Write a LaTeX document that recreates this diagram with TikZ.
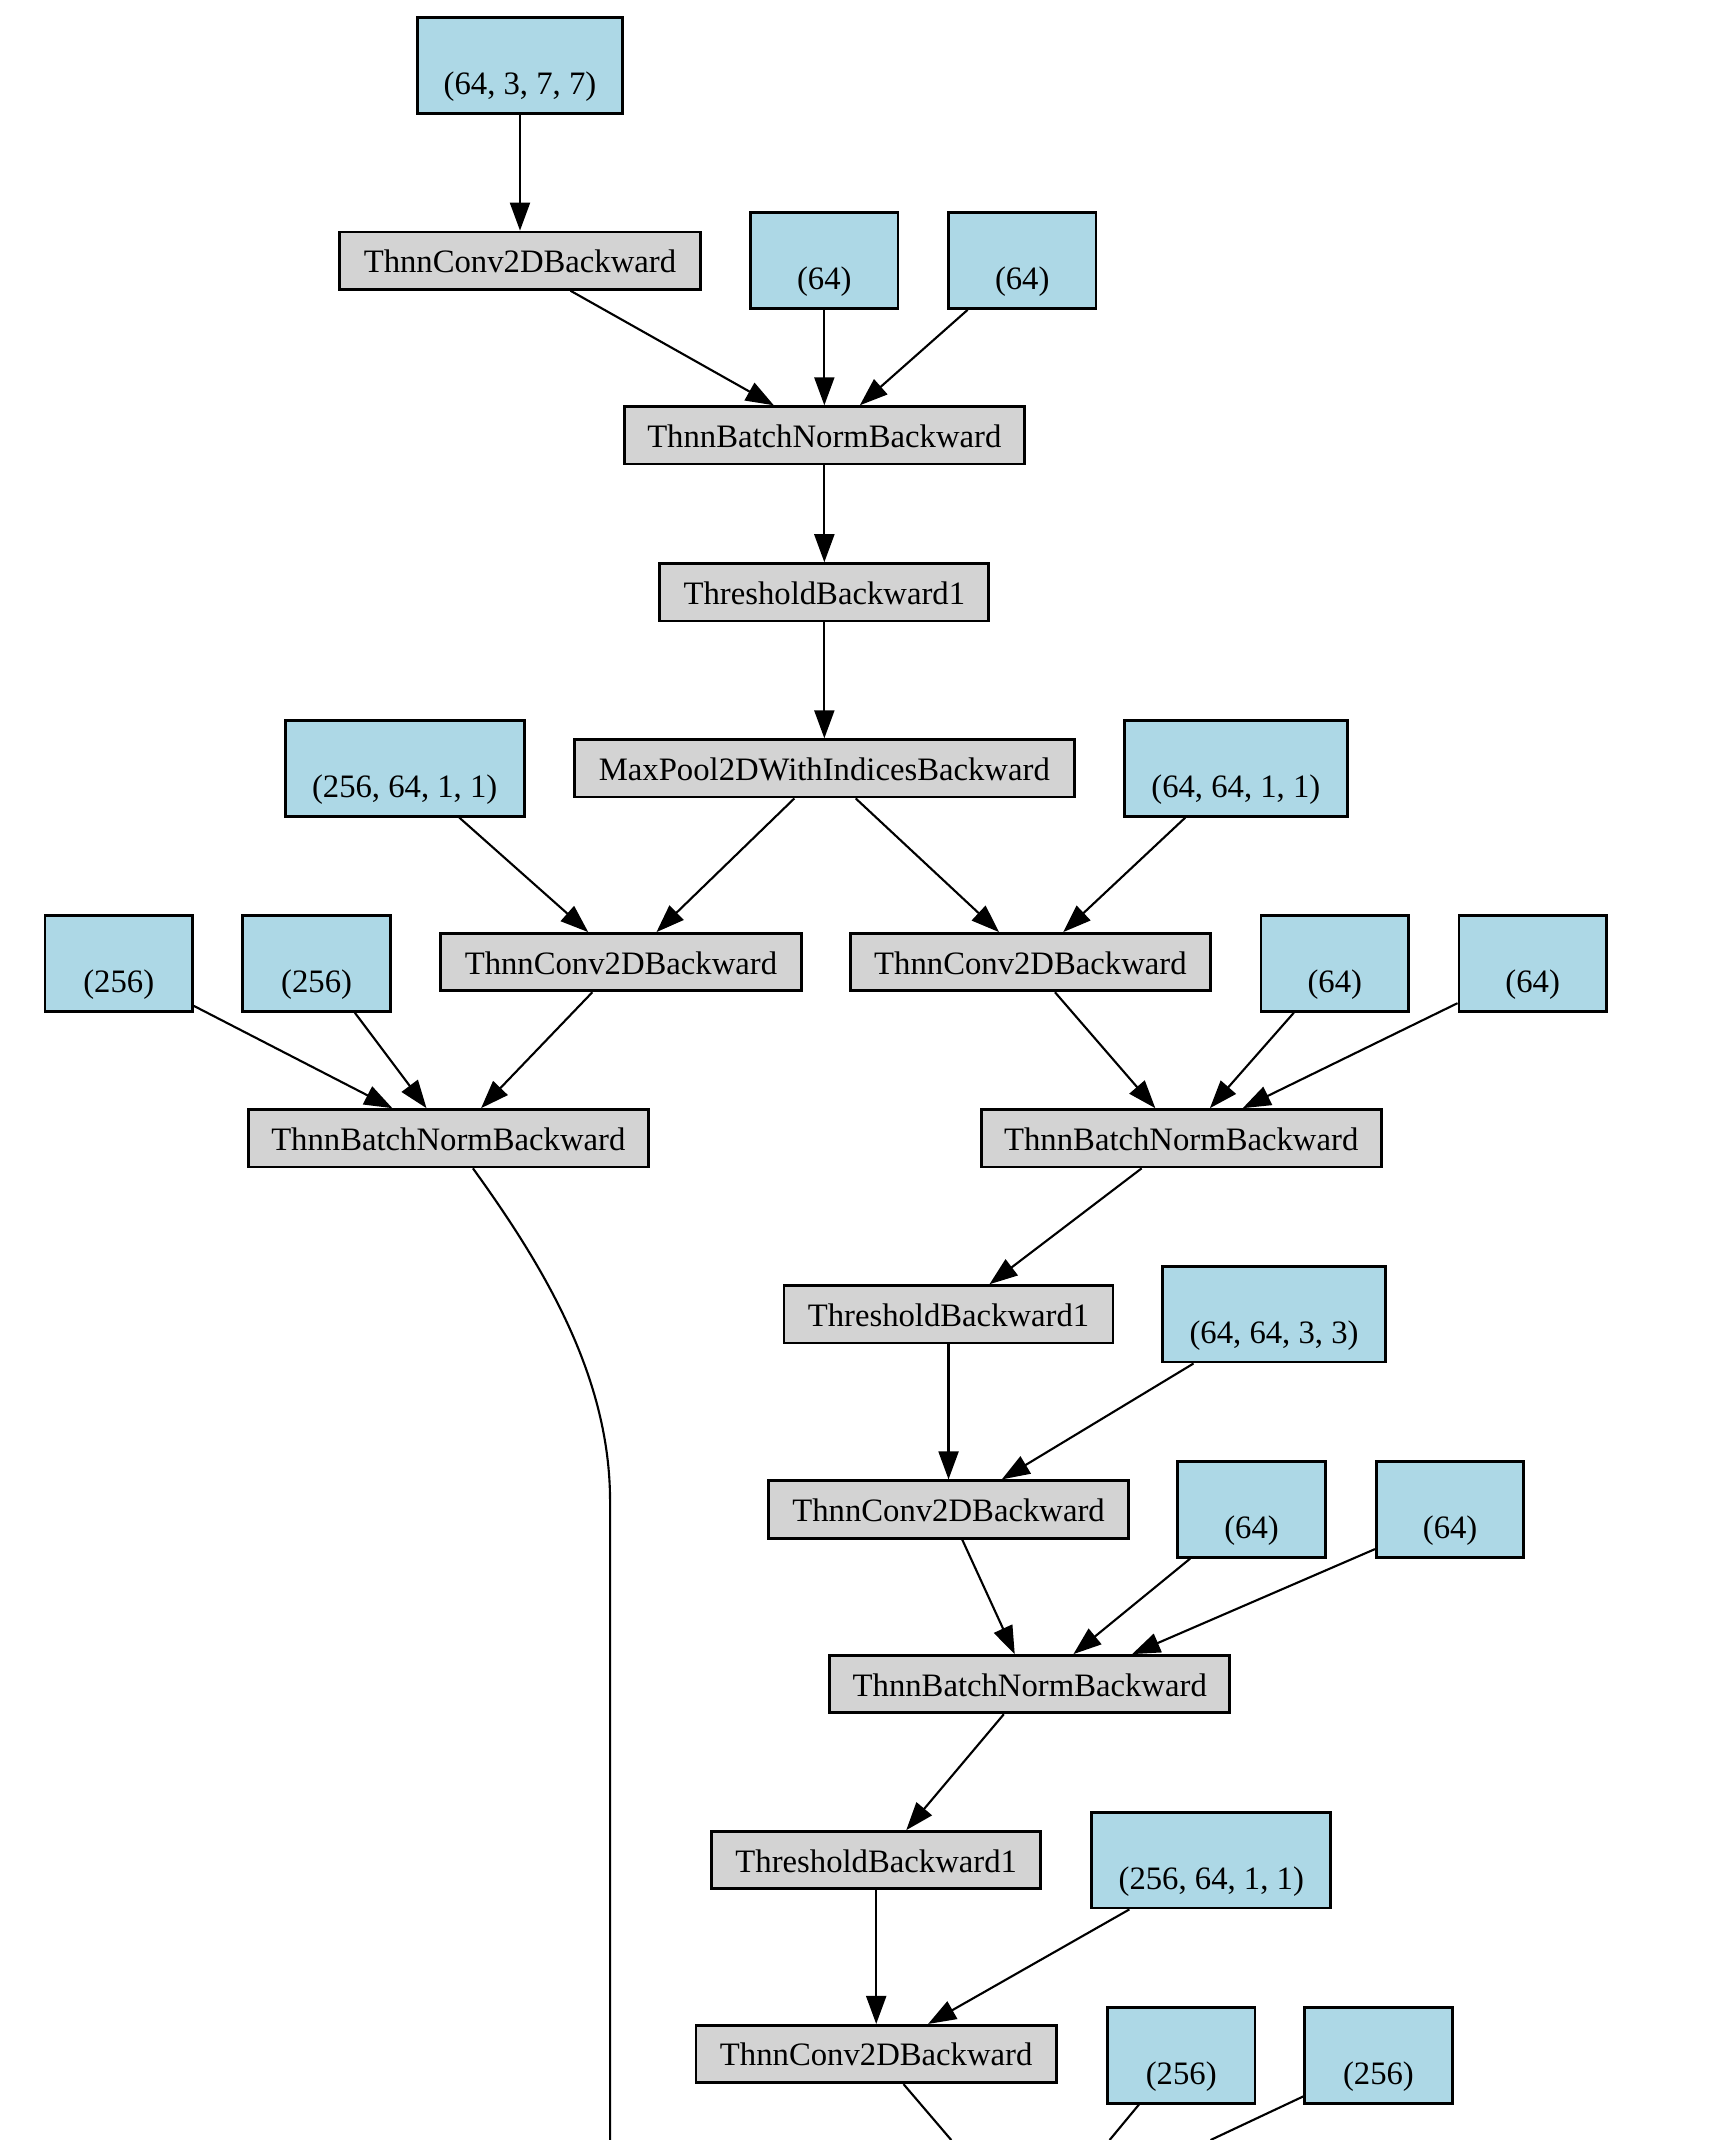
\documentclass[tikz,border=0pt]{standalone}
\usepackage{fontspec}
\setmainfont{Liberation Serif}
\usetikzlibrary{arrows.meta,calc}
\definecolor{lightbluec}{HTML}{ADD8E6}
\definecolor{lightgrayc}{HTML}{D3D3D3}
\begin{document}
\begin{tikzpicture}[x=0.013644cm,y=-0.013644cm,
  font=\fontsize{9.3}{11}\selectfont,
  opbox/.style={draw=black,fill=lightgrayc,line width=0.8pt,inner sep=0pt,minimum height=0.573cm,text height=0.68em,text depth=0pt},
  param/.style={draw=black,fill=lightbluec,line width=0.8pt,inner sep=0pt,minimum height=0.955cm,text height=0.66cm,text depth=0.074cm},
  conn/.style={line width=0.6pt,-{Triangle[length=0.28cm,width=0.2cm]}},
  cut/.style={line width=0.6pt}]
\fill[white] (0,0) rectangle (1265,1568);
\useasboundingbox (0,0) rectangle (1265,1568);

\node[param,minimum width=2.047cm] (A) at (381,48) {(64, 3, 7, 7)};
\node[opbox,minimum width=3.602cm] (B) at (381,191) {ThnnConv2DBackward};
\node[param,minimum width=1.474cm] (C) at (604,191) {(64)};
\node[param,minimum width=1.474cm] (D) at (749,191) {(64)};
\node[opbox,minimum width=3.998cm] (E) at (604,319) {ThnnBatchNormBackward};
\node[opbox,minimum width=3.288cm] (F) at (604,434) {ThresholdBackward1};
\node[opbox,minimum width=4.994cm] (G) at (604,563) {MaxPool2DWithIndicesBackward};
\node[param,minimum width=2.388cm] (H) at (296.5,563) {(256, 64, 1, 1)};
\node[param,minimum width=2.224cm] (I) at (905.5,563) {(64, 64, 1, 1)};
\node[param,minimum width=1.474cm] (J) at (87,706) {(256)};
\node[param,minimum width=1.474cm] (K) at (232,706) {(256)};
\node[opbox,minimum width=3.602cm] (L) at (455,705) {ThnnConv2DBackward};
\node[opbox,minimum width=3.602cm] (M) at (755,705) {ThnnConv2DBackward};
\node[param,minimum width=1.474cm] (N) at (978,706) {(64)};
\node[param,minimum width=1.474cm] (O) at (1123,706) {(64)};
\node[opbox,minimum width=3.998cm] (P) at (328.5,834) {ThnnBatchNormBackward};
\node[opbox,minimum width=3.998cm] (Q) at (865.5,834) {ThnnBatchNormBackward};
\node[opbox,minimum width=3.288cm] (R) at (695,963) {ThresholdBackward1};
\node[param,minimum width=2.224cm] (S) at (933.5,963) {(64, 64, 3, 3)};
\node[opbox,minimum width=3.602cm] (T) at (695,1106) {ThnnConv2DBackward};
\node[param,minimum width=1.474cm] (U) at (917,1106) {(64)};
\node[param,minimum width=1.474cm] (V) at (1062.5,1106) {(64)};
\node[opbox,minimum width=3.998cm] (W) at (754.5,1234) {ThnnBatchNormBackward};
\node[opbox,minimum width=3.288cm] (X) at (642,1363) {ThresholdBackward1};
\node[param,minimum width=2.388cm] (Y) at (887.5,1363) {(256, 64, 1, 1)};
\node[opbox,minimum width=3.602cm] (Z) at (642,1505) {ThnnConv2DBackward};
\node[param,minimum width=1.474cm] (AA) at (865.5,1506) {(256)};
\node[param,minimum width=1.474cm] (AB) at (1010,1506) {(256)};

\coordinate (pb) at (447,1568);
\coordinate (zb) at (697,1568);
\coordinate (aab) at (813,1568);
\coordinate (abb) at (887,1568);

\draw[conn] (A.south) -- (B.north);
\draw[conn] ($(B.south)+(37,0)$) -- ($(E.north)+(-37,0)$);
\draw[conn] (C.south) -- (E.north);
\draw[conn] ($(D.south)+(-40,0)$) -- ($(E.north)+(26,0)$);
\draw[conn] (E.south) -- (F.north);
\draw[conn] (F.south) -- (G.north);
\draw[conn] ($(G.south)+(-22,0)$) -- ($(L.north)+(26,0)$);
\draw[conn] ($(G.south)+(23,0)$) -- ($(M.north)+(-23,0)$);
\draw[conn] ($(H.south)+(40,0)$) -- ($(L.north)+(-24,0)$);
\draw[conn] ($(I.south)+(-37,0)$) -- ($(M.north)+(24,0)$);
\draw[conn] ($(L.south)+(-21,0)$) -- ($(P.north)+(24,0)$);
\draw[conn] ($(J.south east)+(0,-5)$) -- ($(P.north)+(-41,0)$);
\draw[conn] ($(K.south)+(28,0)$) -- ($(P.north)+(-16,0)$);
\draw[conn] ($(M.south)+(18,0)$) -- ($(Q.north)+(-19,0)$);
\draw[conn] ($(N.south)+(-30,0)$) -- ($(Q.north)+(21,0)$);
\draw[conn] ($(O.south west)+(0,-7)$) -- ($(Q.north)+(45,0)$);
\draw[cut] ($(P.south)+(18,0)$) .. controls (400,930) and (447,1010) .. (447,1100) -- (pb);
\draw[conn] ($(Q.south)+(-29,0)$) -- ($(R.north)+(30,0)$);
\draw[conn] (R.south) -- (T.north);
\draw[conn] ($(S.south)+(-59,0)$) -- ($(T.north)+(39,0)$);
\draw[conn] ($(T.south)+(10,0)$) -- ($(W.north)+(-11,0)$);
\draw[conn] ($(U.south)+(-45,0)$) -- ($(W.north)+(32,0)$);
\draw[conn] ($(V.south west)+(0,-7)$) -- ($(W.north)+(75,0)$);
\draw[conn] ($(W.south)+(-19,0)$) -- ($(X.north)+(22,0)$);
\draw[conn] (X.south) -- (Z.north);
\draw[conn] ($(Y.south)+(-60,0)$) -- ($(Z.north)+(38,0)$);
\draw[cut] ($(Z.south)+(20,0)$) -- (zb);
\draw[cut] ($(AA.south)+(-31,0)$) -- (aab);
\draw[cut] ($(AB.south west)+(0,-6)$) -- (abb);
\end{tikzpicture}
\end{document}
